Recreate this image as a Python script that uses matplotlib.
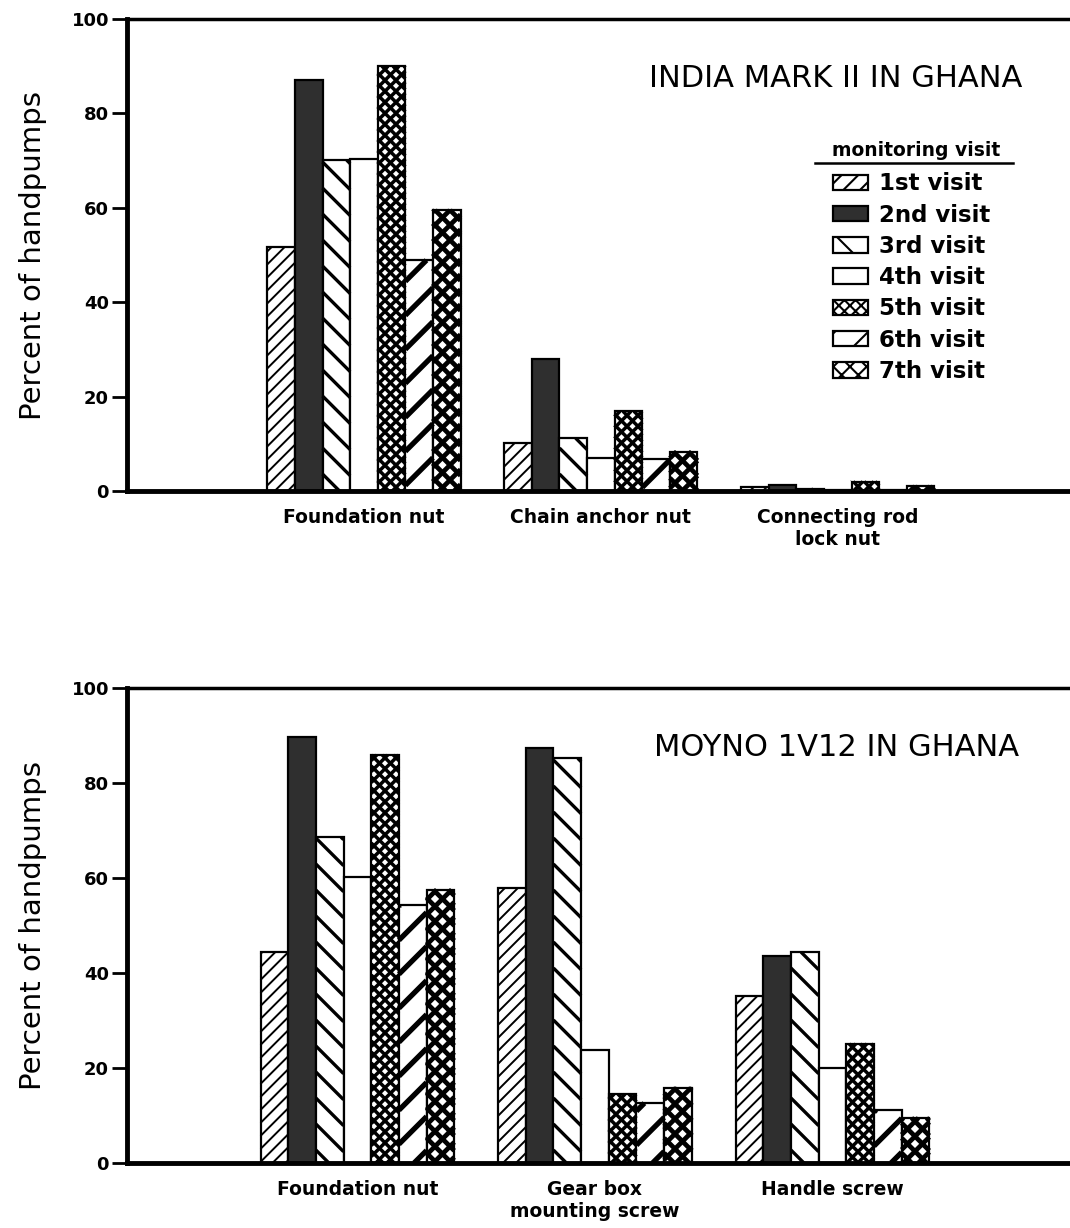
import numpy as np
import matplotlib
matplotlib.use('Agg')
import matplotlib.pyplot as plt
from matplotlib.collections import LineCollection
from matplotlib.patches import Patch
from matplotlib.transforms import IdentityTransform, Bbox

plt.rcParams['font.family'] = ['DejaVu Sans']
plt.rcParams['hatch.linewidth'] = 1.5

visits = ['1st visit', '2nd visit', '3rd visit', '4th visit',
          '5th visit', '6th visit', '7th visit']

# India Mark II: one row per visit, one column per part
india_parts = ['Foundation nut', 'Chain anchor nut', 'Connecting rod\nlock nut']
india_pct = [
    [51.7, 10.2, 0.8],
    [87.1, 28.0, 1.3],
    [70.1, 11.2, 0.5],
    [70.4, 7.0, 0.3],
    [90.0, 16.9, 2.0],
    [48.9, 6.8, 0.2],
    [59.5, 8.3, 1.0],
]

# Moyno 1V12
moyno_parts = ['Foundation nut', 'Gear box\nmounting screw', 'Handle screw']
moyno_pct = [
    [44.4, 57.9, 35.2],
    [89.7, 87.4, 43.6],
    [68.6, 85.2, 44.4],
    [60.2, 23.8, 20.0],
    [85.9, 14.5, 25.1],
    [54.3, 12.6, 11.2],
    [57.5, 15.8, 9.5],
]

# look of each visit: fill, hatch directions, spacing (px), line width (pt)
fills = ['white', '#2f2f2f', 'white', 'white', 'white', 'white', 'white']
hatch_dirs = ['/', '', '\\', '', '/\\', '/', '/\\']
hatch_space = [13, 0, 26, 0, 11, 34, 15]
hatch_lw = [1.4, 0, 2.4, 0, 2.5, 3.8, 3.4]
legend_hatch = ['//', '', '\\', '', 'xxx', '/', 'xx']

BAR_W = 0.1165


def hatch_bar(ax, bar, dirs, space, lw):
    # hatch lines in pixels, cut to the bar rectangle
    bb = bar.get_window_extent()
    x0, y0, x1, y1 = bb.x0, bb.y0, bb.x1, bb.y1
    segs = []
    if '/' in dirs:
        # y = x + k
        for k in np.arange(y0 - x1 - space, y1 - x0 + space, space):
            k = k - (k % space) + (x0 % space)
            xa, xb = max(x0, y0 - k), min(x1, y1 - k)
            if xb > xa:
                segs.append([(xa, xa + k), (xb, xb + k)])
    if '\\' in dirs:
        # y = -x + k
        for k in np.arange(x0 + y0 - space, x1 + y1 + space, space):
            k = k - (k % space) + (x0 % space)
            xa, xb = max(x0, k - y1), min(x1, k - y0)
            if xb > xa:
                segs.append([(xa, k - xa), (xb, k - xb)])
    lc = LineCollection(segs, colors='black', linewidths=lw,
                        transform=IdentityTransform(), zorder=2.5)
    lc.set_clip_box(Bbox.from_extents(x0, y0, x1, y1))
    ax.add_collection(lc, autolim=False)


def draw_panel(ax, parts, pct, title, xlim):
    x = np.arange(len(parts))
    ax.set_xlim(*xlim)
    ax.set_ylim(0, 100)
    for i in range(len(visits)):
        bars = ax.bar(x + (i - 3) * BAR_W, pct[i], BAR_W,
                      facecolor=fills[i], edgecolor='black',
                      linewidth=1.6, zorder=2)
        if hatch_dirs[i]:
            for b in bars:
                hatch_bar(ax, b, hatch_dirs[i], hatch_space[i], hatch_lw[i])

    ax.set_xticks(x, parts, fontsize=13.5, fontweight='bold', linespacing=1.25)
    ax.tick_params(axis='x', length=0, pad=12)
    ax.set_yticks(range(0, 101, 20), [str(v) for v in range(0, 101, 20)],
                  fontsize=13, fontweight='bold')
    ax.tick_params(axis='y', direction='out', length=11, width=2, pad=2)

    ax.spines['right'].set_visible(False)
    ax.spines['left'].set_linewidth(3.5)
    ax.spines['bottom'].set_linewidth(3.5)
    ax.spines['top'].set_linewidth(2.5)

    ax.text(0.752, 0.875, title, transform=ax.transAxes,
            ha='center', va='center', fontsize=22)
    ax.text(-0.1, 0.5, 'Percent of handpumps', transform=ax.transAxes,
            rotation=90, ha='center', va='center', fontsize=21)


fig = plt.figure(figsize=(10.7, 12.28), dpi=100)
ax_top = fig.add_axes([127 / 1070, 1 - 491 / 1228, 1 - 127 / 1070, 472 / 1228])
ax_bot = fig.add_axes([127 / 1070, 1 - 1163 / 1228, 1 - 127 / 1070, 475 / 1228])

draw_panel(ax_top, india_parts, india_pct, 'INDIA MARK II IN GHANA', (-1.0, 2.98))
draw_panel(ax_bot, moyno_parts, moyno_pct, 'MOYNO 1V12 IN GHANA', (-0.97, 3.0))

# legend
handles = [Patch(facecolor=fills[i], edgecolor='black', hatch=legend_hatch[i],
                 linewidth=1.6, label=visits[i]) for i in range(len(visits))]
ax_top.legend(handles=handles, loc='upper left', bbox_to_anchor=(0.749, 0.675),
              frameon=False, prop={'weight': 'bold', 'size': 16.5},
              handlelength=1.53, handleheight=0.66, handletextpad=0.48,
              labelspacing=0.36, borderpad=0, borderaxespad=0)
ax_top.text(0.837, 0.722, 'monitoring visit', transform=ax_top.transAxes,
            ha='center', va='center', fontsize=13.5, fontweight='bold')
ax_top.plot([0.730, 0.940], [0.695, 0.695], transform=ax_top.transAxes,
            color='black', lw=1.8, clip_on=False)

fig.savefig('out.png', dpi=100)
